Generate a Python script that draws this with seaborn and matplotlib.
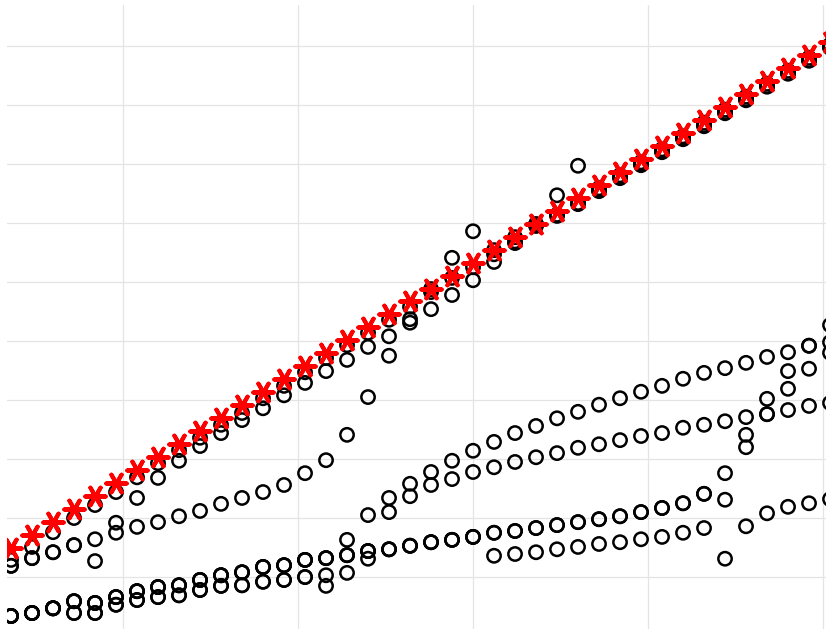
import matplotlib
matplotlib.use("Agg")
import matplotlib.pyplot as plt
import pandas as pd
import seaborn as sns

# sample positions shared by every series
x = [0.36, 0.48, 0.60, 0.72, 0.84, 0.96, 1.08, 1.20, 1.32, 1.44,
     1.56, 1.68, 1.80, 1.92, 2.04, 2.16, 2.28, 2.40, 2.52, 2.64,
     2.76, 2.88, 3.00, 3.12, 3.24, 3.36, 3.48, 3.60, 3.72, 3.84,
     3.96, 4.08, 4.20, 4.32, 4.44, 4.56, 4.68, 4.80, 4.92, 5.04]

# reference curve (red asterisks)
target = [15.0, 17.2, 19.4, 21.6, 23.8, 26.0, 28.2, 30.4, 32.6, 34.8,
          37.0, 39.1, 41.3, 43.5, 45.7, 47.9, 50.1, 52.3, 54.5, 56.7,
          58.9, 61.1, 63.3, 65.5, 67.7, 69.9, 72.1, 74.3, 76.5, 78.7,
          80.9, 83.0, 85.2, 87.4, 89.6, 91.8, 94.0, 96.2, 98.4, 100.6]

# individual runs (open black circles)
run_1 = [12.9, 15.1, 17.6, 20.0, 22.2, 24.4, 26.9, 29.3, 31.5, 33.6,
         35.8, 37.8, 40.3, 42.4, 44.7, 47.1, 49.3, 51.4, 53.6, 55.8,
         58.3, 60.7, 62.5, 64.7, 66.9, 69.5, 71.4, 73.4, 75.6, 77.8,
         80.0, 82.2, 84.4, 86.6, 88.8, 91.0, 93.2, 95.4, 97.6, 99.8]
run_2 = [11.9, 13.2, 14.2, 15.4, 16.4, 17.5, 18.5, 19.3, 20.3, 21.2,
         22.4, 23.4, 24.4, 25.6, 27.6, 29.8, 34.1, 40.5, 47.5, 53.7,
         55.4, 57.8, 60.3, 63.4, 66.6, 69.8, 71.2, 73.2, 75.4, 77.6,
         79.8, 82.0, 84.2, 86.4, 88.6, 90.8, 93.1, 95.3, 97.5, 99.7]
run_3 = [11.9, 13.2, 14.2, 15.4, 12.7, 19.2, 23.4, 26.8, 29.7, 32.2,
         34.4, 36.6, 38.6, 40.8, 42.9, 44.9, 46.8, 49.0, 50.8, 53.1,
         58.8, 64.1, 68.6, 65.4, 67.6, 69.8, 74.7, 79.7, 75.9, 78.1,
         80.3, 82.5, 84.7, 87.0, 89.2, 91.4, 93.6, 95.8, 98.0, 100.2]
run_4 = [3.4, 3.9, 4.7, 5.9, 5.6, 6.6, 7.6, 8.3, 8.6, 9.5,
         10.3, 10.8, 11.7, 12.0, 12.9, 13.2, 13.7, 14.4, 14.7, 15.3,
         15.9, 16.3, 16.8, 17.5, 17.8, 18.3, 18.8, 19.3, 19.8, 20.3,
         21.0, 21.7, 22.5, 24.1, 27.6, 32.0, 37.6, 41.9, 45.3, 48.0]
run_5 = [3.4, 3.9, 4.7, 3.9, 3.9, 5.3, 6.1, 6.6, 6.9, 7.8,
         8.5, 8.6, 9.2, 9.5, 10.0, 10.3, 16.3, 20.5, 23.4, 25.8,
         27.8, 29.7, 31.4, 32.9, 34.4, 35.6, 36.9, 38.0, 39.2, 40.3,
         41.4, 42.4, 43.6, 44.6, 45.4, 46.3, 47.3, 48.1, 49.2, 49.8]
run_6 = [3.4, 3.9, 4.7, 3.9, 3.9, 5.3, 6.1, 6.6, 6.9, 7.8,
         8.5, 8.6, 9.2, 9.5, 10.0, 8.5, 10.7, 13.1, 21.0, 23.7,
         25.6, 26.6, 27.8, 28.6, 29.5, 30.3, 31.0, 31.9, 32.5, 33.2,
         33.9, 34.4, 35.3, 35.8, 36.4, 37.1, 37.6, 38.3, 39.0, 39.5]
run_7 = [3.4, 3.9, 4.7, 5.9, 5.6, 6.6, 7.6, 8.3, 8.6, 9.5,
         10.3, 10.8, 11.7, 12.0, 12.9, 13.2, 13.7, 14.4, 14.7, 15.3,
         15.9, 16.3, 16.8, 13.6, 13.9, 14.2, 14.7, 15.1, 15.6, 15.9,
         16.4, 16.8, 17.5, 18.3, 13.1, 18.6, 20.8, 21.9, 22.5, 23.2]
run_8 = [3.4, 3.9, 4.7, 5.9, 5.6, 6.6, 7.6, 8.3, 8.6, 9.5,
         10.3, 10.8, 11.7, 12.0, 12.9, 13.2, 13.7, 14.4, 14.7, 15.3,
         15.9, 16.3, 16.8, 17.5, 17.8, 18.3, 18.8, 19.3, 19.8, 20.3,
         21.0, 21.7, 22.5, 24.1, 23.1, 34.1, 40.2, 44.9, 49.2, 52.7]

runs = {"run_1": run_1, "run_2": run_2, "run_3": run_3, "run_4": run_4,
        "run_5": run_5, "run_6": run_6, "run_7": run_7, "run_8": run_8}

x_grid = [1, 2, 3, 4, 5]
y_grid = [10, 20, 30, 40, 50, 60, 70, 80, 90, 100]

runs_df = pd.concat(
    [pd.DataFrame({"x": x, "y": vals, "run": name}) for name, vals in runs.items()],
    ignore_index=True,
)
target_df = pd.DataFrame({"x": x, "y": target})

sns.set_theme(style="white")

W, H = 826, 629
fig = plt.figure(figsize=(W / 100, H / 100), dpi=100)
fig.patch.set_facecolor("white")
ax = fig.add_axes([7 / W, 0, 1 - 7 / W, 1 - 5 / H])
ax.set_facecolor("white")

sns.scatterplot(data=runs_df, x="x", y="y", ax=ax, marker="o", s=92,
                facecolor="none", edgecolor="black", linewidth=1.8,
                legend=False, zorder=3)
sns.scatterplot(data=target_df, x="x", y="y", ax=ax, marker=(6, 2, 90),
                s=215, color="#ff0000", linewidth=2.9, legend=False, zorder=4)

ax.set_xlim(0.337, 5.017)
ax.set_ylim(1.19, 106.95)
ax.set_xticks(x_grid)
ax.set_yticks(y_grid)
ax.grid(True, color="#e4e4e4", linewidth=0.9)
ax.set_axisbelow(True)
ax.tick_params(length=0, labelbottom=False, labelleft=False)
ax.set_xlabel("")
ax.set_ylabel("")
for side in ax.spines.values():
    side.set_visible(False)

fig.savefig("out.png", dpi=100, facecolor="white")
